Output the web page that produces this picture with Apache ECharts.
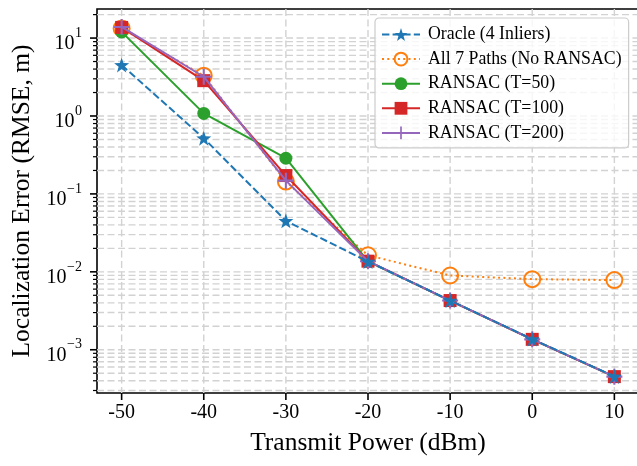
<!DOCTYPE html>
<html>
<head>
<meta charset="utf-8">
<script src="https://cdn.jsdelivr.net/npm/echarts@6/dist/echarts.min.js"></script>
<style>
html,body{margin:0;padding:0;background:#fff;}
#chart{width:637px;height:466px;}
</style>
</head>
<body>
<div id="chart"></div>
<script>
// ---- data ----
const powers = [-50, -40, -30, -20, -10, 0, 10];
const oracle = [4.51, 0.518, 0.0451, 0.01355, 0.00428, 0.00137, 0.000455];
const all7 = [13.3, 3.29, 0.144, 0.0163, 0.00897, 0.00806, 0.00783];
const ransac50 = [12.0, 1.08, 0.287, 0.01365, 0.00428, 0.00136, 0.000452];
const ransac100 = [13.7, 2.84, 0.172, 0.0137, 0.00428, 0.00136, 0.000452];
const ransac200 = [13.9, 3.19, 0.148, 0.0137, 0.00428, 0.00136, 0.000452];
const xTickValues = [-50, -40, -30, -20, -10, 0, 10];
const yMajorExps = [-4, -3, -2, -1, 0, 1, 2];
const seriesNames = ['Oracle (4 Inliers)', 'All 7 Paths (No RANSAC)', 'RANSAC (T=50)', 'RANSAC (T=100)', 'RANSAC (T=200)'];

const FONT = 'Liberation Serif';
const xMin = -53, xMax = 13;
const yMin = Math.pow(10, -3.555), yMax = Math.pow(10, 1.373);

const pairs = (ys) => powers.map((x, i) => [x, ys[i]]);

// tick/grid items: [xDummy, yDummy, kind, value, exponent]; kind 0 = x tick, 1 = y major, 2 = y minor
const gridItems = [];
xTickValues.forEach(v => gridItems.push([0, 1, 0, v, 0]));
yMajorExps.forEach(e => {
  const base = Math.pow(10, e);
  gridItems.push([0, 1, 1, base, e]);
  for (let k = 2; k <= 9; k++) gridItems.push([0, 1, 2, k * base, e]);
});

const starPath = 'path://M0,-10 L2.35,-3.24 L9.51,-3.09 L3.8,1.24 L5.88,8.09 L0,4 L-5.88,8.09 L-3.8,1.24 L-9.51,-3.09 L-2.35,-3.24 Z';
const plusPath = 'path://M-1.3,-10 L1.3,-10 L1.3,-1.3 L10,-1.3 L10,1.3 L1.3,1.3 L1.3,10 L-1.3,10 L-1.3,1.3 L-10,1.3 L-10,-1.3 L-1.3,-1.3 Z';

const gridColor = '#d2d2d2';
const dash = [7, 3.5];
const BASE_FONT = '20px "Liberation Serif"';
const SUP_FONT = '14px "Liberation Serif"';
const measureCtx = document.createElement('canvas').getContext('2d');
function textWidth(t, font) { measureCtx.font = font; return measureCtx.measureText(t).width; }

const chart = echarts.init(document.getElementById('chart'), null, {renderer: 'canvas'});
chart.setOption({
  animation: false,
  backgroundColor: '#fff',
  grid: {left: 97, right: -2, top: 9, bottom: 73, show: true, borderColor: '#000', borderWidth: 1.6,
         backgroundColor: 'transparent', containLabel: false, outerBoundsMode: 'none'},
  xAxis: {
    type: 'value', min: xMin, max: xMax,
    axisLine: {show: false}, axisTick: {show: false}, splitLine: {show: false},
    axisLabel: {
      margin: 10, color: '#000', fontFamily: FONT, fontSize: 20,
      formatter: v => (Math.abs(v % 10) < 1e-9 ? String(v) : ''),
      showMinLabel: true, showMaxLabel: true
    },
    name: 'Transmit Power (dBm)', nameLocation: 'middle', nameGap: 37,
    nameTextStyle: {color: '#000', fontFamily: FONT, fontSize: 25.5}
  },
  yAxis: {
    type: 'log', logBase: 10, min: yMin, max: yMax,
    axisLine: {show: false}, axisTick: {show: false}, splitLine: {show: false}, minorTick: {show: false},
    axisLabel: {show: false},
    name: 'Localization Error (RMSE, m)', nameLocation: 'middle', nameGap: 62, nameRotate: 90,
    nameTextStyle: {color: '#000', fontFamily: FONT, fontSize: 25.5}
  },
  legend: {
    data: seriesNames, orient: 'vertical', left: 375, top: 18,
    itemWidth: 38, itemHeight: 16, itemGap: 6.6,
    padding: [7.5, 7, 6, 6],
    backgroundColor: 'rgba(255,255,255,0.8)', borderColor: '#cccccc', borderWidth: 1.2, borderRadius: 4,
    textStyle: {fontFamily: FONT, fontSize: 17.8, color: '#000', padding: [0, 0, 0, 3]}
  },
  series: [
    {
      type: 'custom', name: 'gridticks', silent: true, z: 0, clip: false,
      data: gridItems, encode: {x: 0, y: 1},
      renderItem: (params, api) => {
        const cs = params.coordSys;
        const kind = api.value(2), val = api.value(3), ex = api.value(4);
        const children = [];
        if (kind === 0) {
          const x = api.coord([val, 1])[0];
          children.push({type: 'line', shape: {x1: x, y1: cs.y, x2: x, y2: cs.y + cs.height}, style: {stroke: gridColor, lineWidth: 1.4, lineDash: dash}});
          children.push({type: 'line', shape: {x1: x, y1: cs.y + cs.height, x2: x, y2: cs.y + cs.height + 7}, style: {stroke: '#000', lineWidth: 1.6}});
        } else {
          if (val < yMin || val > yMax) return null;
          const y = api.coord([0, val])[1];
          children.push({type: 'line', shape: {x1: cs.x, y1: y, x2: cs.x + cs.width, y2: y}, style: {stroke: gridColor, lineWidth: 1.4, lineDash: dash}});
          const len = kind === 1 ? 7 : 4;
          children.push({type: 'line', shape: {x1: cs.x - len, y1: y, x2: cs.x, y2: y}, style: {stroke: '#000', lineWidth: kind === 1 ? 1.6 : 1.2}});
          if (kind === 1) {
            const sup = ex < 0 ? '\u2212' + (-ex) : String(ex);
            const right = cs.x - 15;
            const supW = textWidth(sup, SUP_FONT);
            children.push({type: 'text', style: {text: sup, x: right, y: y - 5, align: 'right', verticalAlign: 'middle', font: SUP_FONT, fill: '#000'}});
            children.push({type: 'text', style: {text: '10', x: right - supW - 0.5, y: y + 6, align: 'right', verticalAlign: 'middle', font: BASE_FONT, fill: '#000'}});
          }
        }
        return {type: 'group', children: children};
      }
    },
    {
      name: seriesNames[1], type: 'line', data: pairs(all7), z: 2,
      symbol: 'circle', symbolSize: 16,
      lineStyle: {color: '#ff7f0e', width: 2, type: [2, 3.3]},
      itemStyle: {color: 'rgba(255,255,255,0)', borderColor: '#ff7f0e', borderWidth: 2}
    },
    {
      name: seriesNames[2], type: 'line', data: pairs(ransac50), z: 3,
      symbol: 'circle', symbolSize: 13,
      lineStyle: {color: '#2ca02c', width: 2},
      itemStyle: {color: '#2ca02c'}
    },
    {
      name: seriesNames[3], type: 'line', data: pairs(ransac100), z: 4,
      symbol: 'rect', symbolSize: 13,
      lineStyle: {color: '#d62728', width: 2},
      itemStyle: {color: '#d62728'}
    },
    {
      name: seriesNames[4], type: 'line', data: pairs(ransac200), z: 5,
      symbol: plusPath, symbolSize: 16,
      lineStyle: {color: '#9467bd', width: 2},
      itemStyle: {color: '#9467bd'}
    },
    {
      name: seriesNames[0], type: 'line', data: pairs(oracle), z: 6,
      symbol: starPath, symbolSize: 15,
      lineStyle: {color: '#1f77b4', width: 2, type: [7.4, 3.2]},
      itemStyle: {color: '#1f77b4'}
    }
  ]
});
</script>
</body>
</html>
